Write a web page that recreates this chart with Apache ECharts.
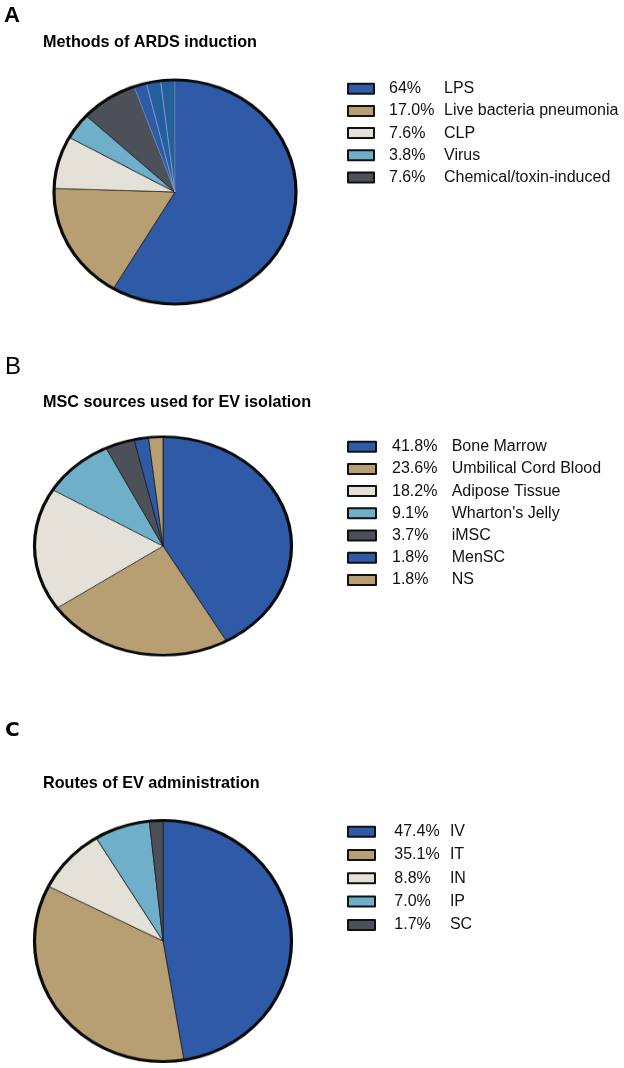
<!DOCTYPE html>
<html><head><meta charset="utf-8">
<script src="https://cdn.jsdelivr.net/npm/echarts@6/dist/echarts.min.js"></script>
<style>
html,body{margin:0;padding:0;background:#fff;}
#main{position:absolute;left:0;top:0;width:624px;height:1068px;}
.pie{position:absolute;width:300px;height:300px;}
</style>
</head><body>
<div id="main"></div>
<div id="pieA" class="pie"></div>
<div id="pieB" class="pie"></div>
<div id="pieC" class="pie"></div>
<script>
// ---------- data ----------
const panelLetters = ['A', 'B', 'C'];
const panelTitles = ['Methods of ARDS induction', 'MSC sources used for EV isolation', 'Routes of EV administration'];

// Panel A legend
const aNames = ['LPS', 'Live bacteria pneumonia', 'CLP', 'Virus', 'Chemical/toxin-induced'];
const aPct = ['64%', '17.0%', '7.6%', '3.8%', '7.6%'];
const aValues = [64, 17.0, 7.6, 3.8, 7.6];
// Panel A drawn slices (LPS drawn as a main slice plus three narrow slices)
const aSliceNames = ['LPS', 'Live bacteria pneumonia', 'CLP', 'Virus', 'Chemical/toxin-induced', 'LPS (i)', 'LPS (ii)', 'LPS (iii)'];
const aSliceValues = [58.5, 17.0, 7.6, 3.8, 7.6, 1.7, 1.9, 1.9];

// Panel B
const bNames = ['Bone Marrow', 'Umbilical Cord Blood', 'Adipose Tissue', "Wharton's Jelly", 'iMSC', 'MenSC', 'NS'];
const bPct = ['41.8%', '23.6%', '18.2%', '9.1%', '3.7%', '1.8%', '1.8%'];
const bValues = [41.8, 23.6, 18.2, 9.1, 3.7, 1.8, 1.8];

// Panel C
const cNames = ['IV', 'IT', 'IN', 'IP', 'SC'];
const cPct = ['47.4%', '35.1%', '8.8%', '7.0%', '1.7%'];
const cValues = [47.4, 35.1, 8.8, 7.0, 1.7];

// ---------- styles ----------
const BLUE = '#2e5aa7', TAN = '#b79f73', CREAM = '#e4e1d8', LBLUE = '#70afc9', GRAY = '#4c5058', DBLUE = '#265f9d';
const aColors = [BLUE, TAN, CREAM, LBLUE, GRAY, BLUE, DBLUE, DBLUE];
const aLegendColors = [BLUE, TAN, CREAM, LBLUE, GRAY];
const bColors = [BLUE, TAN, CREAM, LBLUE, GRAY, BLUE, TAN];
const cColors = [BLUE, TAN, CREAM, LBLUE, GRAY];

const FONT = 'Liberation Sans, Arial, sans-serif';
const LFS = 16;

function legendSeries(names, values, colors) {
  return {
    type: 'pie', radius: 0, center: [-50, -50], silent: true,
    label: {show: false}, labelLine: {show: false}, animation: false,
    itemStyle: {borderWidth: 0},
    data: names.map((n, i) => ({name: n, value: values[i], itemStyle: {color: colors[i]}}))
  };
}

function legendComp(names, pct, left, top, iconW, gapPad, pW, lh, gap) {
  const map = {};
  names.forEach((n, i) => map[n] = pct[i]);
  return {
    orient: 'vertical', left: left, top: top, padding: 0, icon: 'rect',
    itemWidth: iconW, itemHeight: 10, itemGap: gap, selectedMode: false,
    data: names,
    itemStyle: {borderColor: '#111', borderWidth: 2},
    formatter: n => '{p|' + map[n] + '}{n|' + n + '}',
    textStyle: {
      fontFamily: FONT, fontSize: LFS, color: '#111', lineHeight: lh,
      rich: {
        p: {fontFamily: FONT, fontSize: LFS, color: '#111', width: pW, padding: [0, 0, 0, gapPad], lineHeight: lh},
        n: {fontFamily: FONT, fontSize: LFS, color: '#111', lineHeight: lh}
      }
    }
  };
}

const main = echarts.init(document.getElementById('main'), null, {renderer: 'canvas'});
main.setOption({
  backgroundColor: '#fff',
  animation: false,
  graphic: [
    {type: 'text', x: 4, y: 16, style: {text: panelLetters[0], font: 'bold 22px ' + FONT, fill: '#000', textVerticalAlign: 'middle'}},
    {type: 'text', x: 5, y: 367.5, style: {text: panelLetters[1], font: 'normal 24px ' + FONT, fill: '#000', textVerticalAlign: 'middle'}},
    {type: 'text', x: 5, y: 731, style: {text: panelLetters[2], font: 'bold 20px DejaVu Sans, sans-serif', fill: '#000', textVerticalAlign: 'middle'}},
    {type: 'text', x: 43, y: 42.5, style: {text: panelTitles[0], font: 'bold 16.2px ' + FONT, fill: '#000', textVerticalAlign: 'middle'}},
    {type: 'text', x: 43, y: 403, style: {text: panelTitles[1], font: 'bold 16.2px ' + FONT, fill: '#000', textVerticalAlign: 'middle'}},
    {type: 'text', x: 43, y: 784, style: {text: panelTitles[2], font: 'bold 16.2px ' + FONT, fill: '#000', textVerticalAlign: 'middle'}}
  ],
  legend: [
    legendComp(aNames, aPct, 347, 78.7, 26, 10, 55, 20, 2.2),
    legendComp(bNames, bPct, 347, 436.7, 28, 11, 59.7, 20, 2.2),
    legendComp(cNames, cPct, 347, 821.7, 27, 14.3, 55.6, 20, 3.3)
  ],
  series: [
    legendSeries(aNames, aValues, aLegendColors),
    legendSeries(bNames, bValues, bColors),
    legendSeries(cNames, cValues, cColors)
  ]
});

function makePie(id, cx, cy, rx, ry, names, values, colors, borderColors) {
  const el = document.getElementById(id);
  el.style.left = (cx - 150) + 'px';
  el.style.top = (cy - 150) + 'px';
  const ch = echarts.init(el, null, {renderer: 'canvas'});
  ch.setOption({
    animation: false,
    series: [
      {
        type: 'pie', center: ['50%', '50%'], radius: [0, rx - 1.5], startAngle: 90, clockwise: true,
        silent: true, label: {show: false}, labelLine: {show: false}, minAngle: 0,
        itemStyle: {borderColor: '#1a1a1a', borderWidth: 0.8},
        data: names.map((n, i) => ({name: n, value: values[i],
          itemStyle: Object.assign({color: colors[i]}, borderColors && borderColors[i] ? {borderColor: borderColors[i]} : {})}))
      },
      {
        type: 'pie', center: ['50%', '50%'], radius: [0, rx - 1.5], silent: true,
        label: {show: false}, labelLine: {show: false},
        itemStyle: {color: 'rgba(0,0,0,0)', borderColor: '#0a0a0a', borderWidth: 3.2},
        data: [{name: 'outline', value: 1}]
      }
    ]
  });
  el.style.transformOrigin = '150px 150px';
  el.style.transform = 'scaleY(' + (ry / rx) + ')';
}

makePie('pieA', 174.5, 191.5, 122.5, 113.5, aSliceNames, aSliceValues, aColors,
  [null, null, null, null, null, '#7d9dc8', '#7d9dc8', '#7d9dc8']);
makePie('pieB', 163, 545.5, 130, 110.5, bNames, bValues, bColors, null);
makePie('pieC', 163, 941, 130, 122, cNames, cValues, cColors, null);
</script>
</body></html>
